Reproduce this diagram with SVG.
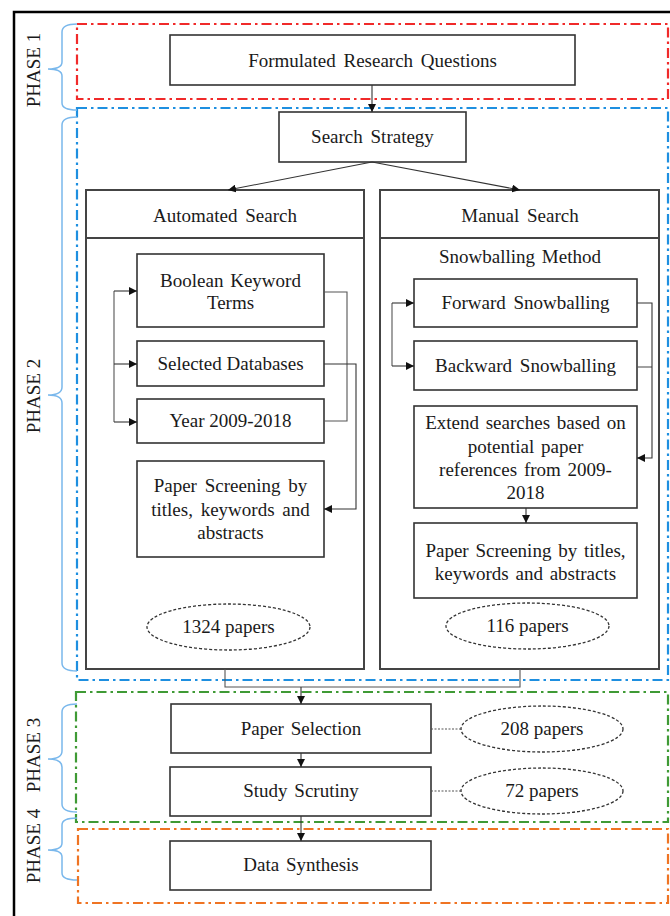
<svg xmlns="http://www.w3.org/2000/svg" width="670" height="916" viewBox="0 0 670 916">
<defs>
<marker id="ah" viewBox="0 0 10 10" refX="10" refY="5" markerWidth="8" markerHeight="8" markerUnits="userSpaceOnUse" orient="auto">
<path d="M0,0 L10,5 L0,10 z" fill="#111"/>
</marker>
</defs>
<style>
text{font-family:"Liberation Serif","Times New Roman",serif;font-size:19px;fill:#1a1a1a;text-anchor:middle}
.box{fill:#fff;stroke:#333;stroke-width:1.6}
.big{fill:none;stroke:#444;stroke-width:2}
.ph{fill:none;stroke-width:2.2;stroke-dasharray:10 4 2.5 4}
.brace{fill:none;stroke:#7ab8ec;stroke-width:1.5}
.ell{fill:#fff;stroke:#333;stroke-width:1.3;stroke-dasharray:3 2}
.ln{fill:none;stroke:#555;stroke-width:1.1}
.ar{fill:none;stroke:#333;stroke-width:1.1;marker-end:url(#ah)}
.lbl{font-size:19px}
</style>
<rect width="670" height="916" fill="#fff"/>
<path d="M14,916 V12 H670" fill="none" stroke="#000" stroke-width="2.5"/>

<g id="phase-frames">
<rect class="ph" x="77" y="24" width="591" height="75" stroke="#f02a2a"/>
<rect class="ph" x="77" y="108" width="591" height="572" stroke="#1e8fe0"/>
<rect class="ph" x="76" y="692" width="592" height="130" stroke="#3f9a35"/>
<rect class="ph" x="78" y="829" width="590" height="74" stroke="#ef7423"/>
</g>

<g id="braces">
<path class="brace" d="M77,24 Q62,24 62,32 V62 Q62,69 48,69 Q62,69 62,76 V103 Q62,110 77,110"/>
<path class="brace" d="M77,117 Q62,117 62,125 V387 Q62,395 48,395 Q62,395 62,403 V663 Q62,671 77,671"/>
<path class="brace" d="M77,704 Q62,704 62,712 V751 Q62,759 48,759 Q62,759 62,767 V804 Q62,812 77,812"/>
<path class="brace" d="M77,818 Q62,818 62,825 V843 Q62,850 48,850 Q62,850 62,857 V873 Q62,880 77,880"/>
</g>

<g id="phase-labels">
<text class="lbl" transform="translate(40,70) rotate(-90)">PHASE 1</text>
<text class="lbl" transform="translate(40,396) rotate(-90)">PHASE 2</text>
<text class="lbl" transform="translate(40,755) rotate(-90)">PHASE 3</text>
<text class="lbl" transform="translate(40,846) rotate(-90)">PHASE 4</text>
</g>

<g id="rq">
<rect class="box" x="170" y="35" width="405" height="50"/>
<text x="372.5" y="67" word-spacing="3">Formulated Research Questions</text>
</g>
<g id="strategy">
<rect class="box" x="279" y="112" width="187" height="50"/>
<text x="372.5" y="143" word-spacing="3">Search Strategy</text>
</g>

<g id="automated">
<rect class="big" x="86" y="190" width="278" height="479"/>
<line x1="86" y1="238" x2="364" y2="238" stroke="#444" stroke-width="2"/>
<text x="225" y="222" word-spacing="3">Automated Search</text>
</g>
<g id="manual">
<rect class="big" x="380" y="190" width="279" height="479"/>
<line x1="380" y1="238" x2="659" y2="238" stroke="#444" stroke-width="2"/>
<text x="520" y="222" word-spacing="3">Manual Search</text>
<text x="520" y="263" word-spacing="2">Snowballing Method</text>
</g>

<g id="boolean">
<rect class="box" x="137" y="254" width="187" height="73"/>
<text x="230.5" y="287" word-spacing="2">Boolean Keyword</text>
<text x="230.5" y="309">Terms</text>
</g>
<g id="databases">
<rect class="box" x="137" y="341" width="187" height="45"/>
<text x="230.5" y="370">Selected Databases</text>
</g>
<g id="year">
<rect class="box" x="137" y="399" width="187" height="44"/>
<text x="230.5" y="427">Year 2009-2018</text>
</g>
<g id="screen-auto">
<rect class="box" x="137" y="461" width="187" height="96"/>
<text x="230.5" y="492" word-spacing="3">Paper Screening by</text>
<text x="230.5" y="516" word-spacing="3">titles, keywords and</text>
<text x="230.5" y="539">abstracts</text>
</g>
<g id="papers-1324">
<ellipse class="ell" cx="228.5" cy="627" rx="81.5" ry="23"/>
<text x="228.5" y="633">1324 papers</text>
</g>

<g id="forward">
<rect class="box" x="414" y="279" width="223" height="48"/>
<text x="525.5" y="309" word-spacing="3">Forward Snowballing</text>
</g>
<g id="backward">
<rect class="box" x="414" y="341" width="223" height="49"/>
<text x="525.5" y="372" word-spacing="3">Backward Snowballing</text>
</g>
<g id="extend">
<rect class="box" x="414" y="406" width="223" height="102"/>
<text x="525.5" y="429" word-spacing="2">Extend searches based on</text>
<text x="525.5" y="453" word-spacing="2">potential paper</text>
<text x="525.5" y="476" word-spacing="2">references from 2009-</text>
<text x="525.5" y="499">2018</text>
</g>
<g id="screen-manual">
<rect class="box" x="414" y="523" width="223" height="75"/>
<text x="525.5" y="557" word-spacing="2">Paper Screening by titles,</text>
<text x="525.5" y="580" word-spacing="2">keywords and abstracts</text>
</g>
<g id="papers-116">
<ellipse class="ell" cx="527.5" cy="626" rx="81.5" ry="23"/>
<text x="527.5" y="632">116 papers</text>
</g>

<g id="selection">
<rect class="box" x="171" y="704" width="260" height="49"/>
<text x="301" y="735" word-spacing="2">Paper Selection</text>
</g>
<g id="papers-208">
<ellipse class="ell" cx="542" cy="729" rx="81" ry="23"/>
<text x="542" y="735">208 papers</text>
</g>
<g id="scrutiny">
<rect class="box" x="170" y="767" width="261" height="49"/>
<text x="301" y="797" word-spacing="2">Study Scrutiny</text>
</g>
<g id="papers-72">
<ellipse class="ell" cx="542" cy="791" rx="81" ry="23"/>
<text x="542" y="797">72 papers</text>
</g>
<g id="synthesis">
<rect class="box" x="170" y="841" width="261" height="49"/>
<text x="301" y="871" word-spacing="2">Data Synthesis</text>
</g>

<g id="connectors">
<line class="ar" x1="372" y1="85" x2="372" y2="112"/>
<line class="ar" x1="372" y1="162" x2="228" y2="190"/>
<line class="ar" x1="372" y1="162" x2="520" y2="190"/>
<path class="ln" d="M114,291 V422"/>
<line class="ar" x1="114" y1="291" x2="137" y2="291"/>
<line class="ar" x1="114" y1="364" x2="137" y2="364"/>
<line class="ar" x1="114" y1="422" x2="137" y2="422"/>
<path class="ln" d="M324,292 H347 V421 H324"/>
<path class="ar" d="M324,364 H356 V509 H324"/>
<path class="ln" d="M392,303 V366"/>
<line class="ar" x1="392" y1="303" x2="414" y2="303"/>
<line class="ar" x1="392" y1="366" x2="414" y2="366"/>
<path class="ln" d="M637,367 H652"/>
<path class="ar" d="M637,303 H652 V458 H637"/>
<line class="ar" x1="526" y1="508" x2="526" y2="523"/>
<path class="ln" d="M225,669 V687 H520 V669"/>
<line class="ar" x1="301" y1="687" x2="301" y2="704"/>
<line class="ar" x1="301" y1="753" x2="301" y2="767"/>
<line class="ar" x1="301" y1="816" x2="301" y2="841"/>
<line class="ln" x1="431" y1="729" x2="461" y2="729" stroke-dasharray="2 1.5"/>
<line class="ln" x1="431" y1="791" x2="461" y2="791" stroke-dasharray="2 1.5"/>
</g>
</svg>
